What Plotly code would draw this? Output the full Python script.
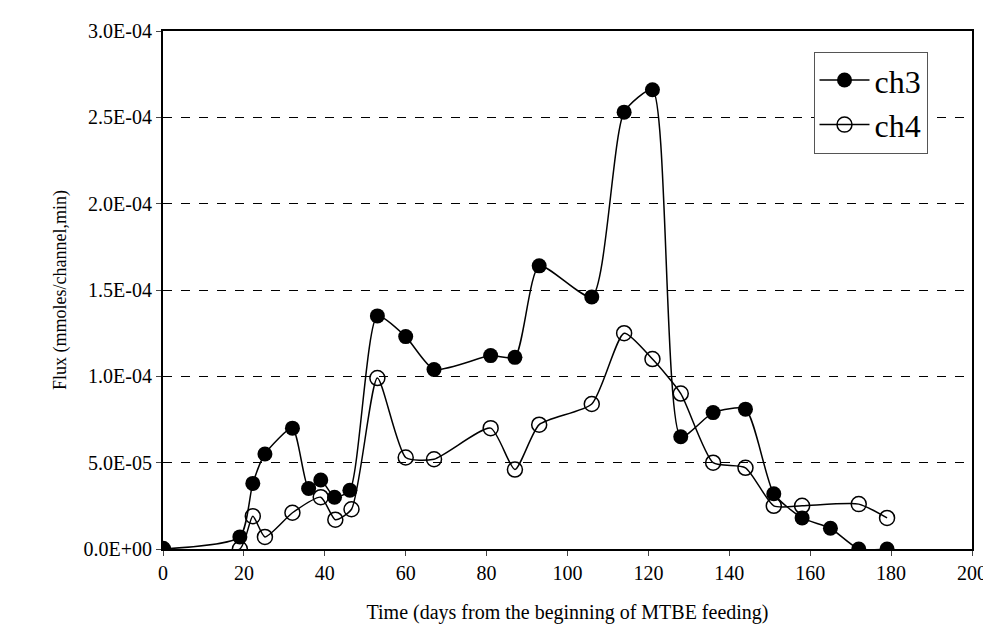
import plotly.graph_objects as go

days_ch3 = [0, 19, 22.2, 25.2, 32, 36, 39, 42.4, 46.2, 53, 60, 67, 81, 87, 93, 106, 114, 121, 128, 136, 144, 151, 158, 165, 172, 179]
ch3 = [0, 7e-6, 3.8e-5, 5.5e-5, 7.0e-5, 3.5e-5, 4.0e-5, 3.0e-5, 3.4e-5, 1.35e-4, 1.23e-4, 1.04e-4, 1.12e-4, 1.11e-4, 1.64e-4, 1.46e-4, 2.53e-4, 2.66e-4, 6.5e-5, 7.9e-5, 8.1e-5, 3.2e-5, 1.8e-5, 1.2e-5, 0, 0]
days_ch4 = [0, 19, 22.2, 25.2, 32, 39, 42.6, 46.6, 53, 60, 67, 81, 87, 93, 106, 114, 121, 128, 136, 144, 151, 158, 172, 179]
ch4 = [0, 0, 1.9e-5, 7e-6, 2.1e-5, 3.0e-5, 1.7e-5, 2.3e-5, 9.9e-5, 5.3e-5, 5.2e-5, 7.0e-5, 4.6e-5, 7.2e-5, 8.4e-5, 1.25e-4, 1.1e-4, 9.0e-5, 5.0e-5, 4.7e-5, 2.5e-5, 2.5e-5, 2.6e-5, 1.8e-5]
ytick_vals = [0, 5e-5, 1e-4, 1.5e-4, 2e-4, 2.5e-4, 3e-4]
ytick_text = ["0.0E+00", "5.0E-05", "1.0E-04", "1.5E-04", "2.0E-04", "2.5E-04", "3.0E-04"]

serif = "Liberation Serif"
fig = go.Figure()
fig.add_trace(go.Scatter(x=days_ch3, y=ch3, name="ch3", mode="lines+markers",
                         line=dict(color="black", width=1.5, shape="spline", smoothing=0.6),
                         marker=dict(symbol="circle", size=15, color="black")))
fig.add_trace(go.Scatter(x=days_ch4, y=ch4, name="ch4", mode="lines+markers",
                         line=dict(color="black", width=1.5, shape="spline", smoothing=0.6),
                         marker=dict(symbol="circle-open", size=15, color="black", line=dict(width=1.5))))

fig.update_layout(
    width=991, height=624, plot_bgcolor="white", paper_bgcolor="white",
    margin=dict(l=155, r=21, t=23, b=60),
    font=dict(family=serif, size=20, color="black"),
    legend=dict(x=0.945, y=0.96, xanchor="right", yanchor="top", bordercolor="#555",
                borderwidth=1, font=dict(family=serif, size=32), bgcolor="white",
                itemwidth=50, tracegroupgap=2),
)
fig.update_xaxes(range=[0, 200], dtick=20, showgrid=False, showline=True, linecolor="black",
                 linewidth=2, mirror=True, ticks="outside", ticklen=5, zeroline=False,
                 tickfont=dict(family=serif, size=20),
                 title=dict(text="Time (days from the beginning of MTBE feeding)", standoff=22,
                            font=dict(family=serif, size=20)))
fig.update_yaxes(range=[0, 3e-4], tickvals=ytick_vals, ticktext=ytick_text, showgrid=True,
                 gridcolor="black", griddash="dash", gridwidth=0.7, showline=True, linecolor="black",
                 linewidth=2, mirror=True, ticks="outside", ticklen=5, zeroline=False,
                 tickfont=dict(family=serif, size=20),
                 title=dict(text="Flux (mmoles/channel,min)", standoff=12, font=dict(family=serif, size=18)))
fig.write_html("out.html")
